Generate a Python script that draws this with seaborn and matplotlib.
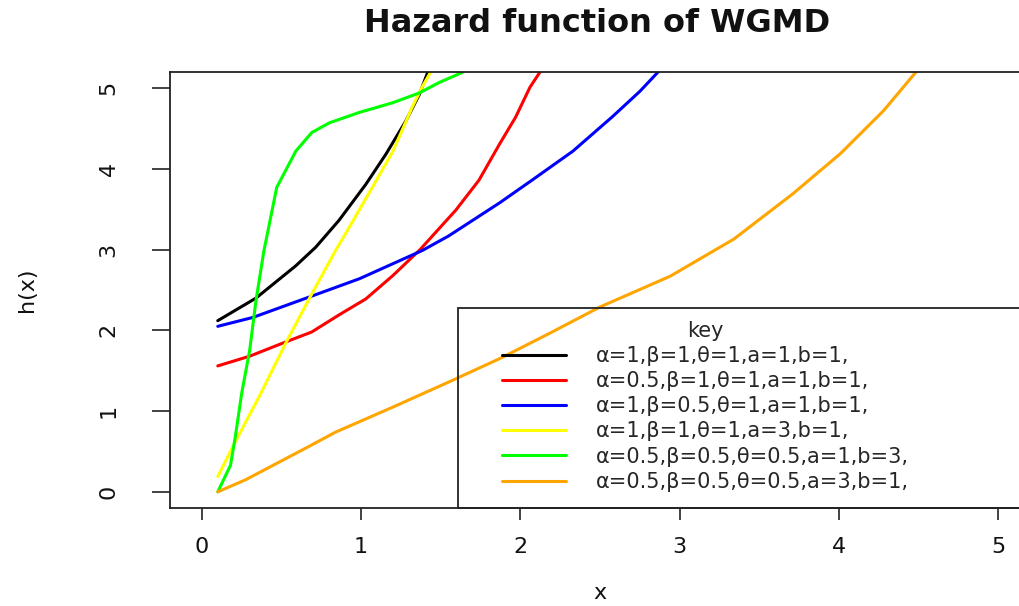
import matplotlib
matplotlib.use("Agg")
import matplotlib.pyplot as plt
from matplotlib.patches import Rectangle
import seaborn as sns
import pandas as pd

# values
black_x = [0.1, 0.34, 0.59, 0.715, 0.86, 1.03, 1.155, 1.28, 1.365, 1.417, 1.45]
black_y = [2.12, 2.40, 2.80, 3.03, 3.36, 3.81, 4.18, 4.59, 4.92, 5.19, 5.36]

red_x = [0.1, 0.30, 0.505, 0.69, 0.86, 1.03, 1.2, 1.37, 1.595, 1.74, 1.87, 1.97, 2.06, 2.12, 2.16]
red_y = [1.56, 1.68, 1.84, 1.98, 2.19, 2.39, 2.68, 3.00, 3.49, 3.86, 4.31, 4.64, 5.01, 5.19, 5.33]

blue_x = [0.1, 0.32, 0.67, 0.99, 1.385, 1.55, 1.87, 2.08, 2.33, 2.58, 2.75, 2.86, 2.92]
blue_y = [2.05, 2.16, 2.41, 2.64, 2.99, 3.17, 3.58, 3.87, 4.22, 4.65, 4.96, 5.19, 5.32]

yellow_x = [0.1, 0.21, 0.36, 0.526, 0.69, 0.84, 0.90, 1.07, 1.2, 1.32, 1.385, 1.44, 1.47]
yellow_y = [0.19, 0.62, 1.18, 1.84, 2.45, 2.99, 3.19, 3.77, 4.22, 4.76, 5.02, 5.21, 5.35]

green_x = [0.1, 0.18, 0.21, 0.25, 0.30, 0.34, 0.39, 0.42, 0.47, 0.59, 0.69, 0.80, 0.99,
           1.2, 1.365, 1.49, 1.63, 1.72]
green_y = [0.0, 0.33, 0.68, 1.22, 1.75, 2.37, 2.99, 3.28, 3.77, 4.22, 4.45, 4.57, 4.70,
           4.82, 4.94, 5.07, 5.19, 5.30]

orange_x = [0.1, 0.275, 0.67, 0.84, 1.2, 1.55, 1.87, 2.18, 2.50, 2.94, 3.34, 3.71, 4.01,
            4.28, 4.48, 4.55]
orange_y = [0.0, 0.15, 0.56, 0.74, 1.05, 1.36, 1.65, 1.96, 2.29, 2.67, 3.13, 3.69, 4.19,
            4.72, 5.19, 5.35]

labels = [
    "α=1,β=1,θ=1,a=1,b=1,",
    "α=0.5,β=1,θ=1,a=1,b=1,",
    "α=1,β=0.5,θ=1,a=1,b=1,",
    "α=1,β=1,θ=1,a=3,b=1,",
    "α=0.5,β=0.5,θ=0.5,a=1,b=3,",
    "α=0.5,β=0.5,θ=0.5,a=3,b=1,",
]
colors = ["black", "#ff0000", "#0000ff", "#ffff00", "#00ff00", "#ffa500"]
xs = [black_x, red_x, blue_x, yellow_x, green_x, orange_x]
ys = [black_y, red_y, blue_y, yellow_y, green_y, orange_y]

x_ticks = [0, 1, 2, 3, 4, 5]
y_ticks = [0, 1, 2, 3, 4, 5]

sns.set_theme(style="ticks")
plt.rcParams["font.family"] = ["DejaVu Sans"]

fig = plt.figure(figsize=(10.19, 6.06), dpi=100)
ax = fig.add_axes([170 / 1019, 98 / 606, 860 / 1019, 436 / 606])

for x, y, c, lab in zip(xs, ys, colors, labels):
    df = pd.DataFrame({"x": x, "h": y})
    sns.lineplot(data=df, x="x", y="h", color=c, lw=2.2, label=lab, ax=ax,
                 estimator=None, sort=False)

ax.set_xlim(-0.2, 5.2)
ax.set_ylim(-0.2, 5.2)
ax.set_xticks(x_ticks)
ax.set_yticks(y_ticks)

for s in ax.spines.values():
    s.set_color("#222222")
    s.set_linewidth(1.3)
    s.set_visible(True)

ax.tick_params(axis="x", length=8.6, width=1.2, pad=12, labelsize=16,
               color="#222222", labelcolor="#111111")
ax.tick_params(axis="y", length=13, width=1.2, pad=24, labelsize=16,
               color="#222222", labelcolor="#111111", labelrotation=90)
for t in ax.get_yticklabels():
    t.set_va("center")

ax.set_xlabel("x", fontsize=16, color="#111111")
ax.set_ylabel("h(x)", fontsize=16, color="#111111")
ax.xaxis.set_label_coords(0.5, -0.172)
ax.yaxis.set_label_coords(-0.155, 0.5)

fig.text(597 / 1019, 1 - 23 / 606, "Hazard function of WGMD", ha="center", va="center",
         fontsize=23, fontweight="bold", color="#111111")

# legend box reaching the lower right corner of the plot
box_x0 = (459 - 203) / 159
box_y1 = (492 - 308) / 80.9
ax.add_patch(Rectangle((box_x0, -0.2), 5.4 - box_x0, box_y1 + 0.2, fill=False,
                       edgecolor="#222222", lw=1.3, clip_on=False, zorder=5))

leg = ax.legend(loc="upper left", bbox_to_anchor=((492 - 203) / 159, (492 - 310) / 80.9),
                bbox_transform=ax.transData, frameon=False, title="key", fontsize=15,
                title_fontsize=15, borderpad=0, handlelength=3.1, handletextpad=1.4,
                labelspacing=0.25)
for lh in leg.get_lines():
    lh.set_linewidth(2.2)

fig.savefig("out.png", dpi=100)
